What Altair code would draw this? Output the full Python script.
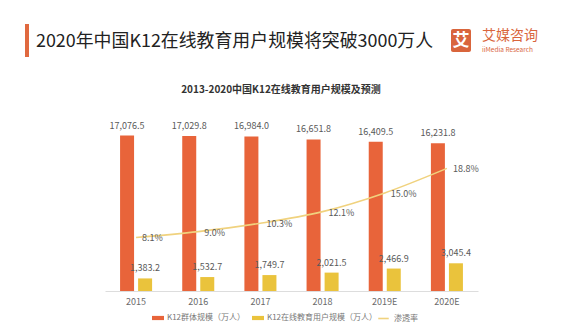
import altair as alt
import pandas as pd

years = ["2015", "2016", "2017", "2018", "2019E", "2020E"]
k12_total = [17076.5, 17029.8, 16984.0, 16651.8, 16409.5, 16231.8]
k12_online = [1383.2, 1532.7, 1749.7, 2021.5, 2466.9, 3045.4]
penetration = [8.1, 9.0, 10.3, 12.1, 15.0, 18.8]

s_total = "K12群体规模（万人）"
s_online = "K12在线教育用户规模（万人）"
s_rate = "渗透率"

title_text = "2020年中国K12在线教育用户规模将突破3000万人"
subtitle_text = "2013-2020中国K12在线教育用户规模及预测"

C_ORANGE = "#E8643A"
C_YELLOW = "#EAC33C"
C_LINE = "#F0D27E"
C_TEXT = "#595959"
FONT = "Noto Sans CJK SC"

bars_df = pd.DataFrame(
    [{"year": y, "series": s_total, "value": v, "order": 0} for y, v in zip(years, k12_total)]
    + [{"year": y, "series": s_online, "value": v, "order": 1} for y, v in zip(years, k12_online)]
)
bars_df["label"] = bars_df["value"].map(lambda v: f"{v:,.1f}")
line_df = pd.DataFrame({"year": years, "rate": penetration, "series": s_rate})
line_df["label"] = line_df["rate"].map(lambda v: f"{v:.1f}%")

W, H = 373, 182

x_enc = alt.X(
    "year:N",
    sort=years,
    scale=alt.Scale(paddingInner=0.42, paddingOuter=0.21),
    axis=alt.Axis(
        title=None, labelAngle=0, ticks=False, domainColor="#dddddd",
        labelColor="#6a6a6a", labelFontSize=9, labelPadding=6, labelFont=FONT,
    ),
)
y_bar = alt.Y("value:Q", scale=alt.Scale(domain=[0, 20000]), axis=None)
xoff = alt.XOffset("series:N", sort=[s_total, s_online], scale=alt.Scale(paddingInner=0, paddingOuter=0))

bars = alt.Chart(bars_df).mark_bar(size=14).encode(
    x=x_enc,
    xOffset=xoff,
    y=y_bar,
    fill=alt.Fill(
        "series:N",
        sort=[s_total, s_online],
        scale=alt.Scale(domain=[s_total, s_online], range=[C_ORANGE, C_YELLOW]),
        legend=alt.Legend(
            title=None, orient="none", legendX=47, legendY=203, direction="horizontal",
            symbolType="M-1,-0.35H1V0.35H-1Z", symbolSize=144, symbolStrokeWidth=0,
            labelFontSize=8, labelColor="#777777", labelFont=FONT, columnPadding=6, labelOffset=3,
        ),
    ),
)
bar_labels = alt.Chart(bars_df).mark_text(
    dy=-5, baseline="bottom", fontSize=9, color=C_TEXT, font=FONT
).encode(
    x=alt.X("year:N", sort=years),
    xOffset=xoff,
    y=y_bar,
    text="label:N",
)
bar_layer = alt.layer(bars, bar_labels)

y_line = alt.Y("rate:Q", scale=alt.Scale(domain=[-0.2, 28]), axis=None)
line = alt.Chart(line_df).mark_line(interpolate="monotone", strokeWidth=1.6).encode(
    x=alt.X("year:N", sort=years),
    y=y_line,
    stroke=alt.Stroke(
        "series:N",
        scale=alt.Scale(domain=[s_rate], range=[C_LINE]),
        legend=alt.Legend(
            title=None, orient="none", legendX=272, legendY=203, direction="horizontal",
            symbolType="stroke", symbolSize=110, symbolStrokeWidth=1.6,
            labelFontSize=8, labelColor="#777777", labelFont=FONT, labelOffset=4,
        ),
    ),
)
line_labels = alt.Chart(line_df).mark_text(
    align="left", baseline="middle", dx=6, dy=1, fontSize=9, color=C_TEXT, font=FONT
).encode(
    x=alt.X("year:N", sort=years),
    y=y_line,
    text="label:N",
)
line_layer = alt.layer(line, line_labels)

one = pd.DataFrame({"k": [0]})
accent = alt.Chart(one).mark_rect(color="#E0693F").encode(
    x=alt.value(-80), x2=alt.value(-76), y=alt.value(-85), y2=alt.value(-52)
)
title_mark = alt.Chart(one).mark_text(
    text=title_text, align="left", baseline="middle", fontSize=17.9, color="#222222", font=FONT
).encode(x=alt.value(-69), y=alt.value(-67))
subtitle_mark = alt.Chart(one).mark_text(
    text=subtitle_text, align="center", baseline="middle", fontSize=10, fontWeight="bold",
    color="#333333", font=FONT
).encode(x=alt.value(176), y=alt.value(-19))
logo_box = alt.Chart(one).mark_rect(color="#D9653C", cornerRadius=2).encode(
    x=alt.value(346), x2=alt.value(366), y=alt.value(-80), y2=alt.value(-57)
)
logo_char = alt.Chart(one).mark_text(
    text="艾", align="center", baseline="middle", fontSize=17, fontWeight="bold", color="white", font=FONT
).encode(x=alt.value(356), y=alt.value(-68.5))
logo_name = alt.Chart(one).mark_text(
    text="艾媒咨询", align="left", baseline="middle", fontSize=14, color="#D9653C", font=FONT
).encode(x=alt.value(377), y=alt.value(-73))
logo_sub = alt.Chart(one).mark_text(
    text="iiMedia Research", align="left", baseline="middle", fontSize=6.5, color="#D9653C", font=FONT
).encode(x=alt.value(377), y=alt.value(-59))

deco = alt.layer(accent, title_mark, subtitle_mark, logo_box, logo_char, logo_name, logo_sub)

chart = (
    alt.layer(bar_layer, line_layer, deco)
    .resolve_scale(y="independent")
    .properties(
        width=W,
        height=H,
        autosize=alt.AutoSizeParams(type="none"),
        padding={"left": 105, "top": 109, "right": 87, "bottom": 40},
        background="white",
    )
    .configure_view(stroke=None)
)

chart.save("out.html", embed_options={"renderer": "svg", "actions": False})
